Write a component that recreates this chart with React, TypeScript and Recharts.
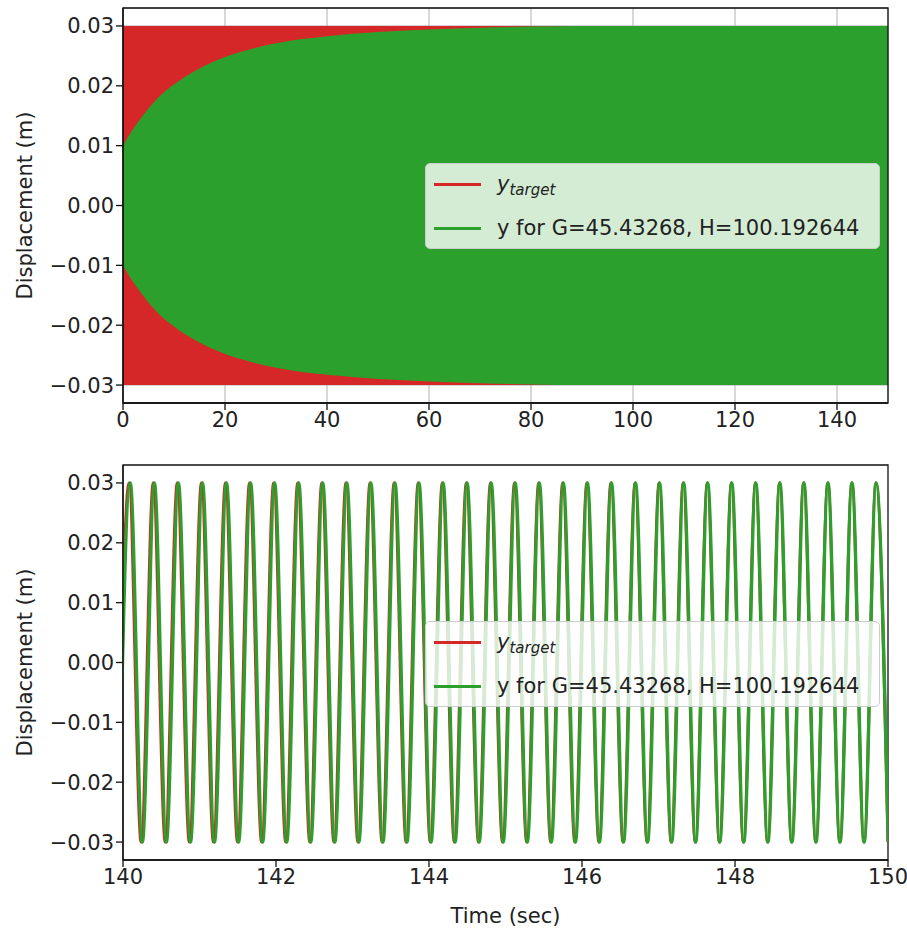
import React from "react";
import { ComposedChart, Area, Line, XAxis, YAxis, CartesianGrid, ReferenceArea } from "recharts";

const FONT = "'DejaVu Sans', 'Liberation Sans', sans-serif";
const RED = "#d62728";
const GREEN = "#2ca02c";
const INK = "#222";

// legend text
const fitLabel = "y for G=45.43268, H=100.192644";
const yLabel = "Displacement (m)";
const xLabel = "Time (sec)";

// top panel: target amplitude and envelope of the fitted response
const targetAmp = 0.03;
const envTime = [0, 1, 2, 3, 5, 7.5, 10, 12.5, 15, 20, 25, 30, 35, 40, 50, 60, 70, 80, 90, 100, 150];
const envAmp = [
  0.01, 0.0115, 0.0128, 0.014, 0.0162, 0.0185, 0.0202, 0.0217, 0.0229, 0.0248, 0.0261,
  0.0271, 0.0278, 0.0283, 0.029, 0.0294, 0.0297, 0.0299, 0.03, 0.03, 0.03,
];

// ticks
const fullTicks = [0, 20, 40, 60, 80, 100, 120, 140];
const zoomTicks = [140, 142, 144, 146, 148, 150];
const yTicks = [-0.03, -0.02, -0.01, 0, 0.01, 0.02, 0.03];
const yRange = [-0.033, 0.033];

// bottom panel: times of troughs (-0.03) and peaks (+0.03)
const targetTroughs = [
  139.922, 140.237, 140.552, 140.867, 141.182, 141.497, 141.812, 142.127, 142.442, 142.757,
  143.071, 143.387, 143.701, 144.017, 144.331, 144.647, 144.961, 145.277, 145.591, 145.906,
  146.221, 146.536, 146.851, 147.166, 147.481, 147.796, 148.11, 148.426, 148.74, 149.056,
  149.37, 149.686, 150.0,
];
const targetPeaks = [
  140.079, 140.395, 140.709, 141.025, 141.339, 141.654, 141.969, 142.284, 142.599, 142.914,
  143.229, 143.544, 143.859, 144.174, 144.488, 144.804, 145.118, 145.434, 145.748, 146.064,
  146.378, 146.694, 147.008, 147.323, 147.638, 147.953, 148.268, 148.583, 148.897, 149.213,
  149.527, 149.843,
];
const fitTroughs = [
  139.938, 140.253, 140.567, 140.882, 141.196, 141.511, 141.825, 142.14, 142.454, 142.769,
  143.083, 143.398, 143.712, 144.027, 144.341, 144.656, 144.97, 145.285, 145.599, 145.914,
  146.228, 146.543, 146.857, 147.172, 147.486, 147.801, 148.115, 148.43, 148.744, 149.059,
  149.373, 149.688, 150.002,
];
const fitPeaks = [
  140.095, 140.41, 140.724, 141.039, 141.353, 141.668, 141.982, 142.297, 142.611, 142.926,
  143.24, 143.555, 143.869, 144.184, 144.498, 144.813, 145.127, 145.442, 145.756, 146.071,
  146.385, 146.7, 147.014, 147.329, 147.643, 147.958, 148.272, 148.587, 148.901, 149.216,
  149.53, 149.845,
];

const envData = envTime.map((t, i) => ({
  t,
  target: [-targetAmp, targetAmp],
  fit: [-envAmp[i], envAmp[i]],
}));

const swing = (troughs: number[], peaks: number[]) =>
  [
    ...troughs.map((t) => ({ t, y: -targetAmp })),
    ...peaks.map((t) => ({ t, y: targetAmp })),
  ].sort((a, b) => a.t - b.t);

const targetData = swing(targetTroughs, targetPeaks);
const fitData = swing(fitTroughs, fitPeaks);

const fmtY = (v: number) => (v < 0 ? "\u2212" : "") + Math.abs(v).toFixed(2);
const tickStyle = { fontSize: 21, fill: INK, fontFamily: FONT };
const axisLine = { stroke: "#111", strokeWidth: 1.3 };
const yLabelProps = {
  value: yLabel,
  angle: -90,
  position: "insideLeft" as const,
  offset: 25,
  style: { textAnchor: "middle", fontSize: 21, fill: INK, fontFamily: FONT },
};

const LegendBox = ({ top }: { top: number }) => {
  const row = (i: number): React.CSSProperties => ({
    position: "absolute",
    left: 0,
    top: 20 + 44 * i - 18,
    height: 36,
    display: "flex",
    alignItems: "center",
    whiteSpace: "nowrap",
  });
  const swatch = (c: string): React.CSSProperties => ({
    display: "inline-block",
    width: 47,
    height: 3,
    background: c,
    marginLeft: 8,
    marginRight: 16,
  });
  return (
    <div
      style={{
        position: "absolute",
        left: 425,
        top,
        width: 455,
        height: 86,
        background: "rgba(255,255,255,0.8)",
        border: "1px solid #cccccc",
        borderRadius: 5,
        boxSizing: "border-box",
        fontFamily: FONT,
        fontSize: 21,
        color: INK,
      }}
    >
      <div style={row(0)}>
        <span style={swatch(RED)} />
        <span style={{ fontStyle: "italic" }}>
          y<span style={{ fontSize: 15, position: "relative", top: 4 }}>target</span>
        </span>
      </div>
      <div style={row(1)}>
        <span style={swatch(GREEN)} />
        <span>{fitLabel}</span>
      </div>
    </div>
  );
};

export default function App() {
  return (
    <div
      style={{
        position: "absolute",
        left: 0,
        top: 0,
        width: 907,
        height: 932,
        background: "#fff",
        fontFamily: FONT,
      }}
    >
      <div style={{ position: "absolute", left: 0, top: 0 }}>
        <ComposedChart
          width={907}
          height={455}
          data={envData}
          margin={{ top: 8, right: 19, bottom: 12, left: 0 }}
        >
          <CartesianGrid stroke="#b0b0b0" strokeWidth={1} />
          <XAxis
            dataKey="t"
            type="number"
            domain={[0, 150]}
            ticks={fullTicks}
            height={40}
            tick={tickStyle}
            tickSize={7}
            axisLine={axisLine}
            tickLine={axisLine}
          />
          <YAxis
            type="number"
            domain={yRange}
            ticks={yTicks}
            width={123}
            tick={tickStyle}
            tickSize={7}
            tickFormatter={fmtY}
            axisLine={axisLine}
            tickLine={axisLine}
            label={yLabelProps}
          />
          <Area
            dataKey="target"
            type="linear"
            fill={RED}
            fillOpacity={1}
            stroke="none"
            isAnimationActive={false}
          />
          <Area
            dataKey="fit"
            type="monotone"
            fill={GREEN}
            fillOpacity={1}
            stroke="none"
            isAnimationActive={false}
          />
          <ReferenceArea
            x1={0}
            x2={150}
            y1={yRange[0]}
            y2={yRange[1]}
            fill="none"
            stroke="#111"
            strokeWidth={1.3}
            ifOverflow="visible"
          />
        </ComposedChart>
        <LegendBox top={163} />
      </div>

      <div style={{ position: "absolute", left: 0, top: 455 }}>
        <ComposedChart
          width={907}
          height={477}
          margin={{ top: 10, right: 19, bottom: 0, left: 0 }}
        >
          <XAxis
            dataKey="t"
            type="number"
            domain={[140, 150]}
            allowDataOverflow
            ticks={zoomTicks}
            height={72}
            tick={tickStyle}
            tickSize={7}
            axisLine={axisLine}
            tickLine={axisLine}
            label={{
              value: xLabel,
              position: "insideBottom",
              offset: 9,
              style: { fontSize: 21, fill: INK, fontFamily: FONT },
            }}
          />
          <YAxis
            type="number"
            domain={yRange}
            allowDataOverflow
            ticks={yTicks}
            width={123}
            tick={tickStyle}
            tickSize={7}
            tickFormatter={fmtY}
            axisLine={axisLine}
            tickLine={axisLine}
            label={yLabelProps}
          />
          <Line
            data={targetData}
            dataKey="y"
            type="monotone"
            stroke={RED}
            strokeWidth={3}
            dot={false}
            isAnimationActive={false}
          />
          <Line
            data={fitData}
            dataKey="y"
            type="monotone"
            stroke={GREEN}
            strokeWidth={3.4}
            dot={false}
            isAnimationActive={false}
          />
          <ReferenceArea
            x1={140}
            x2={150}
            y1={yRange[0]}
            y2={yRange[1]}
            fill="none"
            stroke="#111"
            strokeWidth={1.3}
            ifOverflow="visible"
          />
        </ComposedChart>
        <LegendBox top={621 - 455} />
      </div>
    </div>
  );
}
